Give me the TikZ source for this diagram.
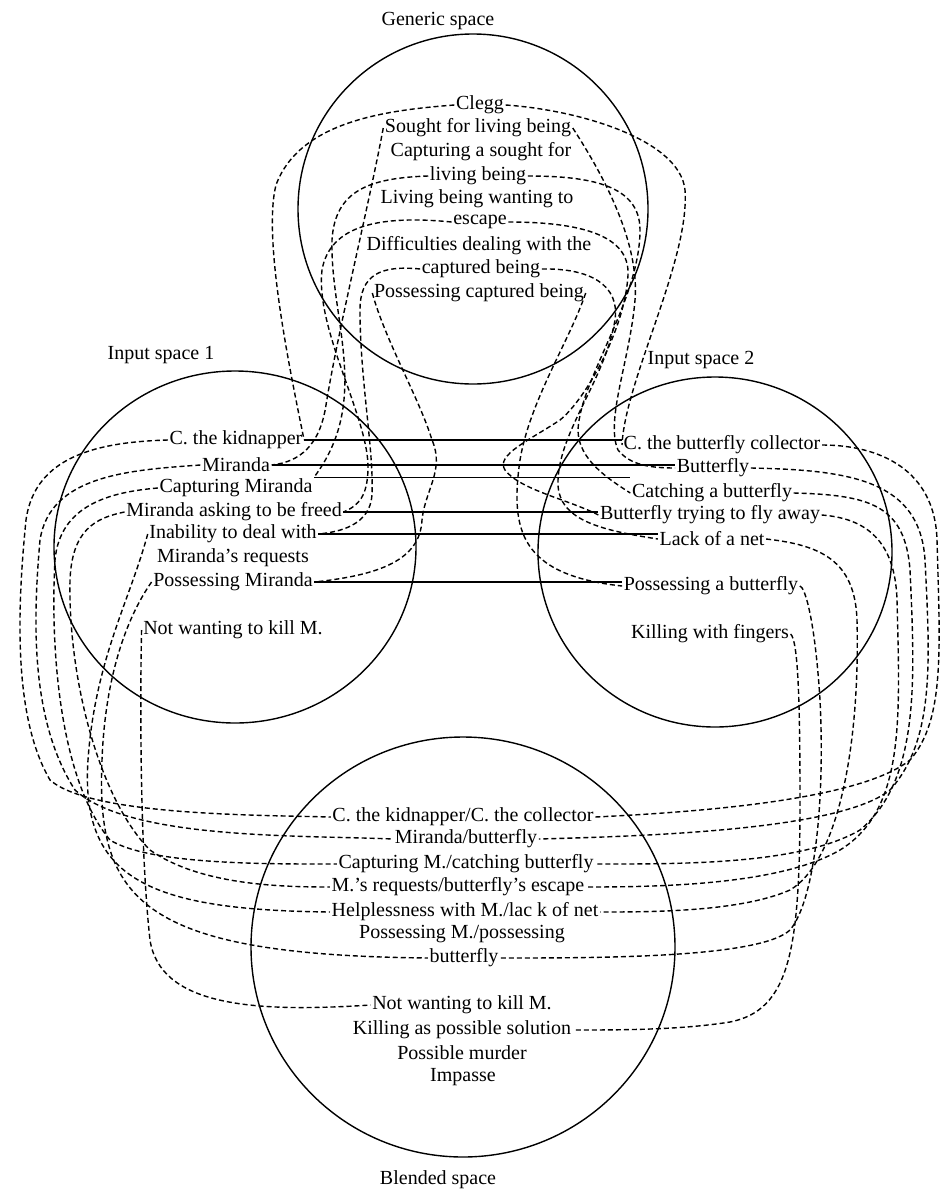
\documentclass[tikz,border=0pt]{standalone}
\usepackage{fontspec}
\setmainfont{Liberation Serif}
\begin{document}
\begin{tikzpicture}[x=1pt,y=-1pt,
  txt/.style={font=\fontsize{20}{23}\selectfont, inner sep=1.5pt, anchor=center},
  ttl/.style={font=\fontsize{20}{23}\selectfont, inner sep=1pt},
  space/.style={line width=1.4pt},
  dl/.style={dash pattern=on 5pt off 3pt, line width=1.4pt},
  sl/.style={line width=1.3pt}]
\useasboundingbox[fill=white] (0,0) rectangle (943,1194);

% spaces
\draw[space] (473,209) circle[x radius=175pt, y radius=175pt];
\draw[space] (235,547) circle[x radius=181pt, y radius=176pt];
\draw[space] (715,552) circle[x radius=177pt, y radius=175pt];
\draw[space] (463,947) circle[x radius=212pt, y radius=210pt];

% titles
\node[ttl] (tg) at (438,21) {Generic space};
\node[ttl] (t1) at (161,355) {Input space 1};
\node[ttl] (t2) at (701,360) {Input space 2};
\node[ttl] (tb) at (438,1180) {Blended space};

% generic space
\node[txt] (g0) at (480,105) {Clegg};
\node[txt] (g1) at (478,128) {Sought for living being};
\node[txt] (g2a) at (481,152) {Capturing a sought for};
\node[txt] (g2) at (478,176) {living being};
\node[txt] (g3a) at (477,199) {Living being wanting to};
\node[txt] (g3) at (480,222) {escape};
\node[txt] (g4a) at (479,246) {Difficulties dealing with the};
\node[txt] (g4) at (481,269) {captured being};
\node[txt] (g5) at (479,293) {Possessing captured being};

% input space 1
\node[txt] (a1) at (236,440) {C. the kidnapper};
\node[txt] (a2) at (236,465) {Miranda};
\node[txt] (a3) at (236,488) {Capturing Miranda};
\node[txt] (a4) at (234,512) {Miranda asking to be freed};
\node[txt] (a5) at (233,534) {Inability to deal with};
\node[txt] (a5b) at (233,558) {Miranda's requests};
\node[txt] (a6) at (233,582) {Possessing Miranda};
\node[txt] (a7) at (233,630) {Not wanting to kill M.};

% input space 2
\node[txt] (b1) at (722,445) {C. the butterfly collector};
\node[txt] (b2) at (713,468) {Butterfly};
\node[txt] (b3) at (712,493) {Catching a butterfly};
\node[txt] (b4) at (710,515) {Butterfly trying to fly away};
\node[txt] (b5) at (712,539) {Lack of a net};
\node[txt] (b6) at (711,586) {Possessing a butterfly};
\node[txt] (b7) at (710,634) {Killing with fingers};

% blended space
\node[txt] (c1) at (463,817) {C. the kidnapper/C. the collector};
\node[txt] (c2) at (466,839) {Miranda/butterfly};
\node[txt] (c3) at (466,864) {Capturing M./catching butterfly};
\node[txt] (c4) at (458,887) {M.'s requests/butterfly's escape};
\node[txt] (c5) at (465,912) {Helplessness with M./lac k of net};
\node[txt] (c6a) at (462,934) {Possessing M./possessing};
\node[txt] (c6) at (464,958) {butterfly};
\node[txt] (c7) at (462,1005) {Not wanting to kill M.};
\node[txt] (c8) at (462,1030) {Killing as possible solution};
\node[txt] (c9) at (462,1053) {Possible murder};
\node[txt] (c10) at (463,1077) {Impasse};

% solid counterpart lines (horizontal)
\draw[sl] (a1.east) -- (a1.east -| b1.west);
\draw[sl] (a2.east) -- (a2.east -| b2.west);
\draw[sl] (a3.north east) -- (a3.north east -| b3.north west);
\draw[sl] (a4.east) -- (a4.east -| b4.west);
\draw[sl] (a5.east) -- (a5.east -| b5.west);
\draw[sl] (a6.east) -- (a6.east -| b6.west);

% generic -> input 1
\draw[dl] (g0.west) .. controls (390,110) and (300,120) .. (276,185) .. controls (262,240) and (292,380) .. (a1.east);
\draw[dl] (g1.west) .. controls (370,200) and (338,330) .. (326,405) .. controls (320,445) and (300,462) .. (a2.east);
\draw[dl] (g2.west) .. controls (370,178) and (335,190) .. (332,240) .. controls (330,320) and (372,400) .. (a3.north east);
\draw[dl] (g3.west) .. controls (380,215) and (330,225) .. (322,270) .. controls (315,330) and (370,420) .. (368,470) .. controls (367,495) and (360,505) .. (a4.east);
\draw[dl] (g4.west) .. controls (380,265) and (360,275) .. (360,310) .. controls (360,380) and (374,450) .. (372,495) .. controls (370,525) and (340,532) .. (a5.east);
\draw[dl] (g5.west) .. controls (385,340) and (420,400) .. (432,440) .. controls (445,470) and (425,490) .. (422,520) .. controls (420,560) and (380,575) .. (a6.east);

% generic -> input 2
\draw[dl] (g0.east) .. controls (580,110) and (680,140) .. (685,190) .. controls (690,260) and (625,380) .. (b1.west);
\draw[dl] (g1.east) .. controls (600,170) and (640,240) .. (635,300) .. controls (630,360) and (605,420) .. (618,450) .. controls (630,465) and (650,468) .. (b2.west);
\draw[dl] (g2.east) .. controls (590,176) and (640,185) .. (640,230) .. controls (640,300) and (580,380) .. (578,430) .. controls (578,460) and (610,480) .. (b3.west);
\draw[dl] (g3.east) .. controls (580,222) and (630,235) .. (628,275) .. controls (625,330) and (585,400) .. (560,420) .. controls (530,440) and (495,455) .. (505,470) .. controls (520,490) and (570,500) .. (b4.west);
\draw[dl] (g4.east) .. controls (590,268) and (620,285) .. (615,320) .. controls (605,380) and (560,430) .. (558,480) .. controls (556,520) and (600,530) .. (b5.west);
\draw[dl] (g5.east) .. controls (570,340) and (530,400) .. (520,460) .. controls (510,530) and (520,575) .. (b6.west);

% input 1 -> blended
\draw[dl] (a1.west) .. controls (100,442) and (35,455) .. (26,520) .. controls (16,620) and (15,720) .. (50,780) .. controls (90,815) and (250,815) .. (c1.west);
\draw[dl] (a2.west) .. controls (130,470) and (50,475) .. (40,540) .. controls (33,620) and (30,720) .. (75,790) .. controls (130,840) and (300,835) .. (c2.west);
\draw[dl] (a3.west) .. controls (110,492) and (60,505) .. (55,560) .. controls (50,650) and (60,780) .. (110,840) .. controls (150,865) and (270,864) .. (c3.west);
\draw[dl] (a4.west) .. controls (95,518) and (72,530) .. (70,580) .. controls (68,680) and (100,800) .. (150,850) .. controls (200,885) and (280,887) .. (c4.west);
\draw[dl] (a5.west) .. controls (130,600) and (95,660) .. (88,760) .. controls (80,880) and (150,910) .. (c5.west);
\draw[dl] (a6.west) .. controls (125,620) and (105,680) .. (102,760) .. controls (96,900) and (140,955) .. (c6.west);
\draw[dl] (a7.west) .. controls (140,700) and (140,850) .. (150,940) .. controls (160,1005) and (250,1013) .. (c7.west);

% input 2 -> blended
\draw[dl] (b1.east) .. controls (880,445) and (935,470) .. (937,540) .. controls (940,650) and (945,720) .. (910,760) .. controls (860,800) and (700,812) .. (c1.east);
\draw[dl] (b2.east) .. controls (850,470) and (920,480) .. (925,560) .. controls (930,660) and (935,740) .. (890,790) .. controls (840,830) and (650,836) .. (c2.east);
\draw[dl] (b3.east) .. controls (870,495) and (905,505) .. (910,570) .. controls (915,680) and (920,780) .. (860,830) .. controls (800,865) and (680,864) .. (c3.east);
\draw[dl] (b4.east) .. controls (860,518) and (895,535) .. (897,600) .. controls (900,720) and (905,810) .. (840,850) .. controls (780,885) and (660,887) .. (c4.east);
\draw[dl] (b5.east) .. controls (820,545) and (855,560) .. (857,620) .. controls (860,740) and (840,860) .. (790,890) .. controls (740,912) and (650,912) .. (c5.east);
\draw[dl] (b6.east) .. controls (805,587) and (815,620) .. (820,700) .. controls (825,800) and (815,900) .. (790,930) .. controls (760,958) and (600,958) .. (c6.east);
\draw[dl] (b7.east) .. controls (798,640) and (800,700) .. (800,800) .. controls (800,950) and (790,1010) .. (730,1022) .. controls (680,1030) and (620,1030) .. (c8.east);
\end{tikzpicture}
\end{document}
